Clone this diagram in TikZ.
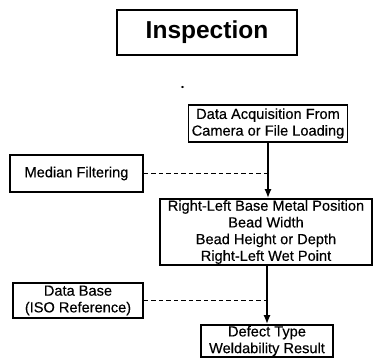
\documentclass[tikz,border=0pt]{standalone}
\usepackage{fontspec}
\setmainfont{Liberation Sans}
\newfontfamily\scanfont[FakeBold=0.35]{Liberation Sans}
\usetikzlibrary{arrows.meta}
\begin{document}
\begin{tikzpicture}[x=1bp,y=-1bp,
  box/.style={draw,line width=1.8bp,inner sep=0pt,align=center,
    font=\scanfont\fontsize{14.6bp}{16.7bp}\selectfont},
  titlebox/.style={box,font=\fontsize{24.5bp}{28bp}\selectfont\bfseries},
  flow/.style={line width=1.5bp,-{Latex[length=9bp,width=7bp]}},
  link/.style={line width=0.9bp,dash pattern=on 4.5bp off 3bp}]
\useasboundingbox (0,0) rectangle (373,358);
% boxes
\node[titlebox,minimum width=180bp,minimum height=45bp] (title) at (207,32.5) {Inspection};
\node[box,minimum width=159bp,minimum height=37bp] (acq) at (268,123.5)
  {Data Acquisition From\\Camera or File Loading};
\node[box,minimum width=133bp,minimum height=37bp] (median) at (76.5,173.5) {Median Filtering};
\node[box,minimum width=212bp,minimum height=66bp] (params) at (266,232)
  {Right-Left Base Metal Position\\Bead Width\\Bead Height or Depth\\Right-Left Wet Point};
\node[box,minimum width=130bp,minimum height=35bp] (db) at (78,300.5)
  {Data Base\\(ISO Reference)};
\node[box,minimum width=132bp,minimum height=32bp] (result) at (267,341)
  {Defect Type\\Weldability Result};
% small speck below the title
\fill (182.5,87) ellipse (1.6bp and 1.1bp);
% main flow
\draw[flow] (acq.south) -- (acq.south |- params.north);
\draw[flow] ([xshift=1bp]params.south) -- ([xshift=1bp]params.south |- result.north);
% side inputs
\draw[link] (median.east) -- (median.east -| acq.south);
\draw[link] (db.east) -- ([xshift=1bp]db.east -| params.south);
\end{tikzpicture}
\end{document}
